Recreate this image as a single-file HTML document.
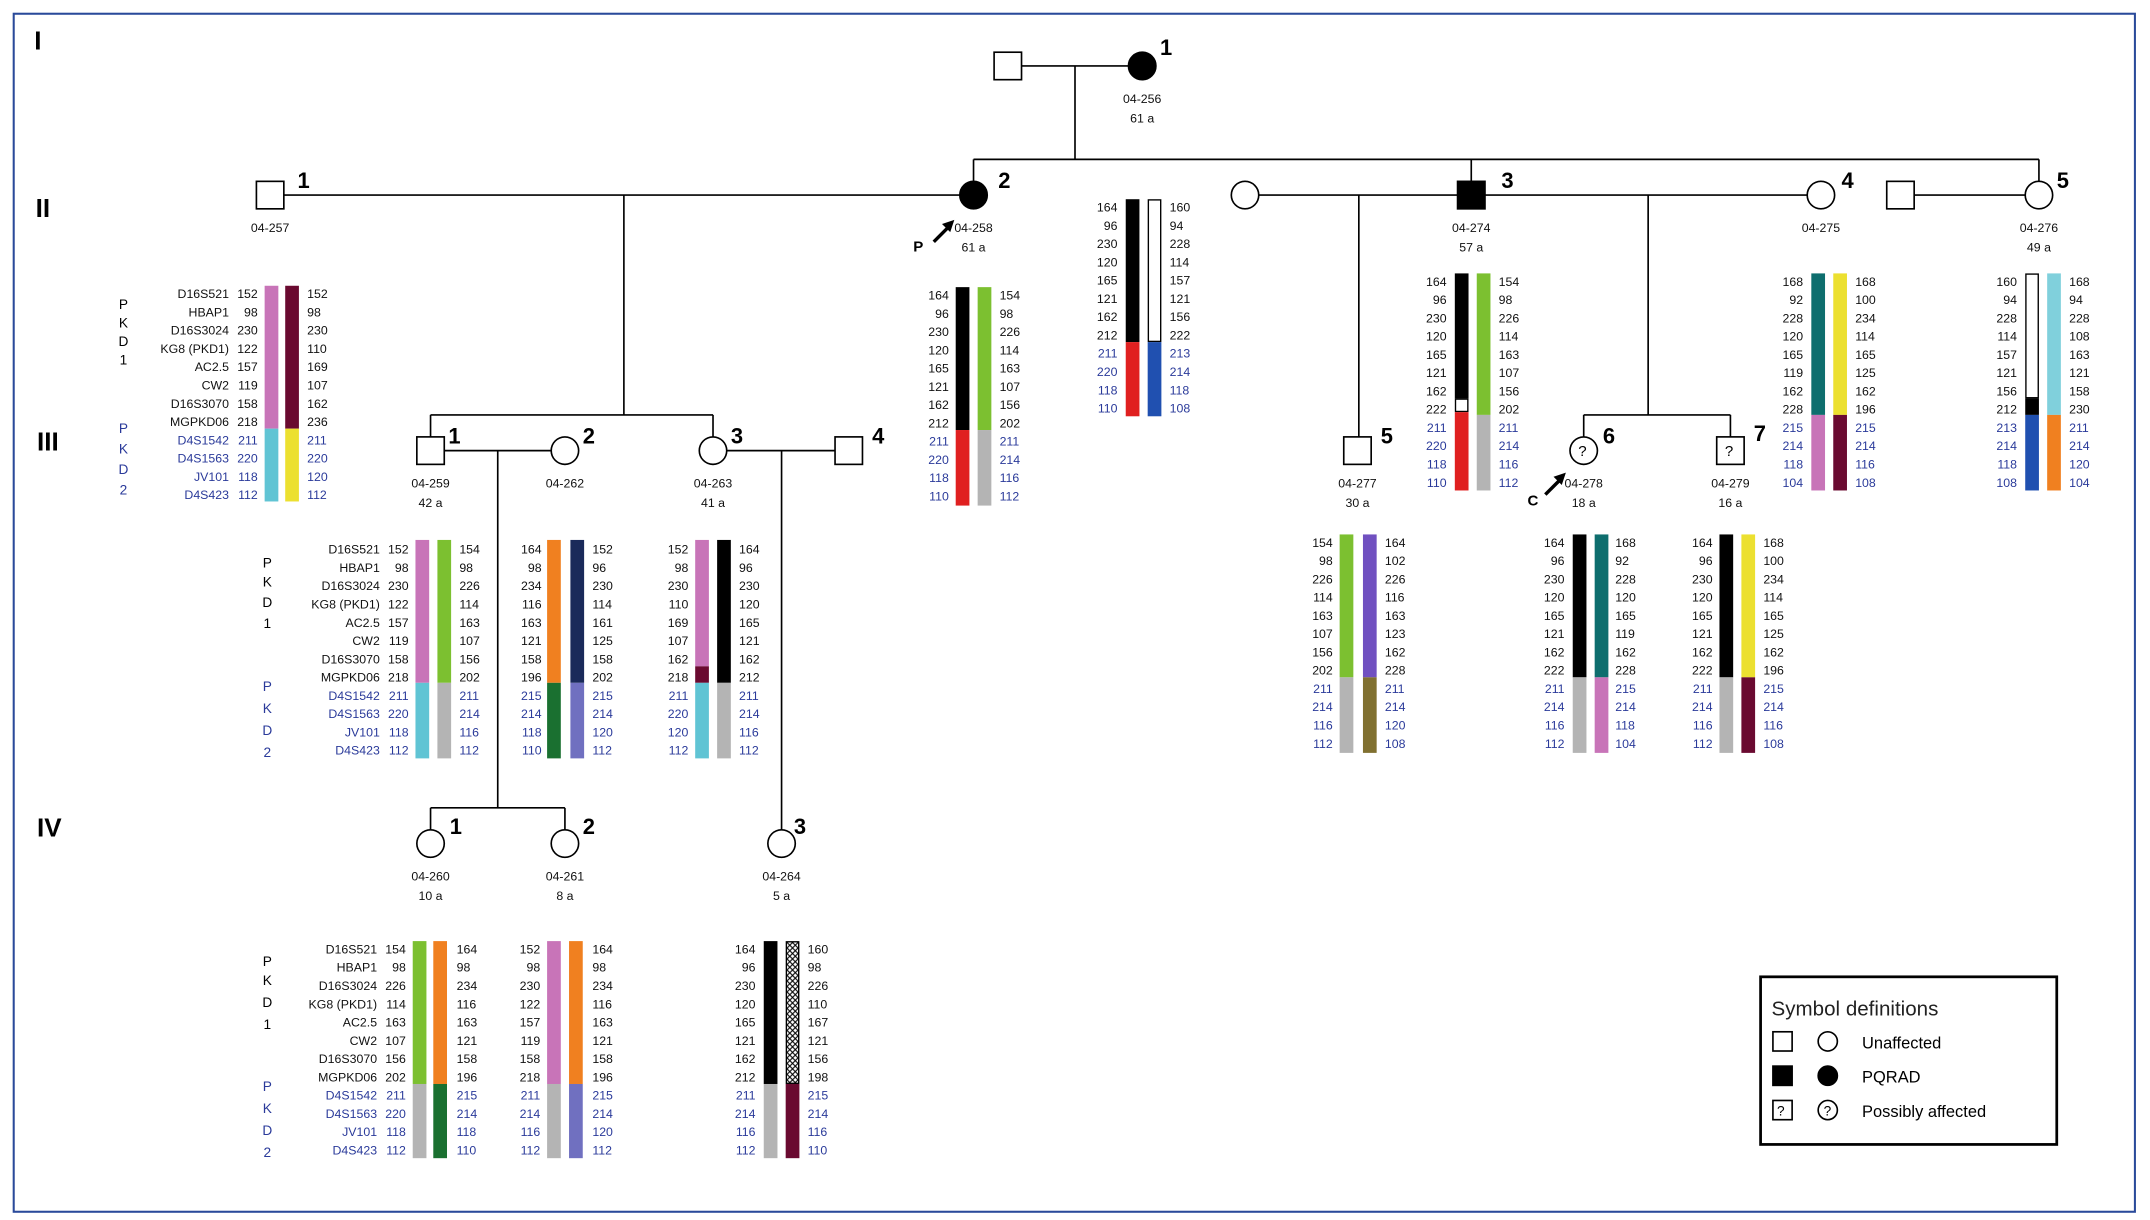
<!DOCTYPE html>
<html><head><meta charset="utf-8"><style>
html,body{margin:0;padding:0;background:#fff;}
svg{display:block}
text{font-family:"Liberation Sans",sans-serif;}
.v{font-size:9px;fill:#111}
.e{text-anchor:end}
.b{fill:#2a3a9a}
.lab{font-size:9px;text-anchor:middle;fill:#111}
.num{font-size:16px;font-weight:bold}
.gen{font-size:19px;font-weight:bold}
.pk{font-size:10px;text-anchor:middle}
.s{fill:#fff;stroke:#000;stroke-width:1.2}
.f{fill:#000;stroke:#000;stroke-width:1.2}
.ln{stroke:#000;stroke-width:1.2;fill:none}
</style></head><body>
<svg width="2150" height="1220" viewBox="0 0 1568 888" preserveAspectRatio="none" xmlns="http://www.w3.org/2000/svg">
<defs><pattern id="x" width="4" height="4" patternUnits="userSpaceOnUse"><rect width="4" height="4" fill="#fff"/><path d="M0 0L4 4M4 0L0 4" stroke="#000" stroke-width="0.8"/></pattern></defs>
<rect x="10" y="10" width="1547" height="872" fill="none" stroke="#2a4a9a" stroke-width="1.5"/>
<text x="25" y="36" class="gen">I</text>
<text x="26" y="158" class="gen">II</text>
<text x="27" y="328" class="gen">III</text>
<text x="27" y="609" class="gen">IV</text>

<!-- lines -->
<path class="ln" d="M745 48H823 M784 48V116 M710 116H1487 M710 116V132 M1073 116V132 M1487 116V132 M207 142H700 M455 142V302 M314 302H520 M314 302V318 M520 302V318 M918 142H1063 M991 142V318 M1083 142H1318 M1202 142V302 M1155 302H1262 M1155 302V318 M1262 302V318 M1396 142H1477 M324 328H402 M363 328V588 M314 588H412 M314 588V604 M412 588V604 M530 328H609 M570 328V604"/>

<!-- Gen I -->
<rect class="s" x="725" y="38" width="20" height="20"/>
<circle class="f" cx="833" cy="48" r="10"/>
<text x="846" y="40" class="num">1</text>
<text x="833" y="75" class="lab">04-256</text><text x="833" y="89" class="lab">61 a</text>

<!-- Gen II -->
<rect class="s" x="187" y="132" width="20" height="20"/><text x="217" y="137" class="num">1</text>
<text x="197" y="169" class="lab">04-257</text>
<circle class="f" cx="710" cy="142" r="10"/><text x="728" y="137" class="num">2</text>
<text x="710" y="169" class="lab">04-258</text><text x="710" y="183" class="lab">61 a</text>
<path d="M681 176L693 164" stroke="#000" stroke-width="2.5"/><path d="M696 160L687 163L693 169Z" fill="#000"/>
<text x="666" y="183" font-size="11" font-weight="bold">P</text>
<circle class="s" cx="908" cy="142" r="10"/>
<rect class="f" x="1063" y="132" width="20" height="20"/><text x="1095" y="137" class="num">3</text>
<text x="1073" y="169" class="lab">04-274</text><text x="1073" y="183" class="lab">57 a</text>
<circle class="s" cx="1328" cy="142" r="10"/><text x="1343" y="137" class="num">4</text>
<text x="1328" y="169" class="lab">04-275</text>
<rect class="s" x="1376" y="132" width="20" height="20"/>
<circle class="s" cx="1487" cy="142" r="10"/><text x="1500" y="137" class="num">5</text>
<text x="1487" y="169" class="lab">04-276</text><text x="1487" y="183" class="lab">49 a</text>

<!-- Gen III -->
<rect class="s" x="304" y="318" width="20" height="20"/><text x="327" y="323" class="num">1</text>
<text x="314" y="355" class="lab">04-259</text><text x="314" y="369" class="lab">42 a</text>
<circle class="s" cx="412" cy="328" r="10"/><text x="425" y="323" class="num">2</text>
<text x="412" y="355" class="lab">04-262</text>
<circle class="s" cx="520" cy="328" r="10"/><text x="533" y="323" class="num">3</text>
<text x="520" y="355" class="lab">04-263</text><text x="520" y="369" class="lab">41 a</text>
<rect class="s" x="609" y="318" width="20" height="20"/><text x="636" y="323" class="num">4</text>
<rect class="s" x="980" y="318" width="20" height="20"/><text x="1007" y="323" class="num">5</text>
<text x="990" y="355" class="lab">04-277</text><text x="990" y="369" class="lab">30 a</text>
<circle class="s" cx="1155" cy="328" r="10"/><text x="1151" y="332" font-size="11">?</text><text x="1169" y="323" class="num">6</text>
<text x="1155" y="355" class="lab">04-278</text><text x="1155" y="369" class="lab">18 a</text>
<path d="M1127 360L1139 348" stroke="#000" stroke-width="2.5"/><path d="M1142 344L1133 347L1139 353Z" fill="#000"/>
<text x="1114" y="368" font-size="11" font-weight="bold">C</text>
<rect class="s" x="1252" y="318" width="20" height="20"/><text x="1258" y="332" font-size="11">?</text><text x="1279" y="321" class="num">7</text>
<text x="1262" y="355" class="lab">04-279</text><text x="1262" y="369" class="lab">16 a</text>

<!-- Gen IV -->
<circle class="s" cx="314" cy="614" r="10"/><text x="328" y="607" class="num">1</text>
<text x="314" y="641" class="lab">04-260</text><text x="314" y="655" class="lab">10 a</text>
<circle class="s" cx="412" cy="614" r="10"/><text x="425" y="607" class="num">2</text>
<text x="412" y="641" class="lab">04-261</text><text x="412" y="655" class="lab">8 a</text>
<circle class="s" cx="570" cy="614" r="10"/><text x="579" y="607" class="num">3</text>
<text x="570" y="641" class="lab">04-264</text><text x="570" y="655" class="lab">5 a</text>

<!-- PKD labels -->
<text class="pk" x="90" y="225">P<tspan x="90" dy="13.5">K</tspan><tspan x="90" dy="13.5">D</tspan><tspan x="90" dy="13.5">1</tspan></text>
<text class="pk b" x="90" y="315">P<tspan x="90" dy="15">K</tspan><tspan x="90" dy="15">D</tspan><tspan x="90" dy="15">2</tspan></text>
<text class="pk" x="195" y="413">P<tspan x="195" dy="14">K</tspan><tspan x="195" dy="15">D</tspan><tspan x="195" dy="15">1</tspan></text>
<text class="pk b" x="195" y="503">P<tspan x="195" dy="16">K</tspan><tspan x="195" dy="16">D</tspan><tspan x="195" dy="16">2</tspan></text>
<text class="pk" x="195" y="703">P<tspan x="195" dy="14">K</tspan><tspan x="195" dy="16">D</tspan><tspan x="195" dy="16">1</tspan></text>
<text class="pk b" x="195" y="794">P<tspan x="195" dy="16">K</tspan><tspan x="195" dy="16">D</tspan><tspan x="195" dy="16">2</tspan></text>

<!-- marker names -->
<text class="v e" x="167" y="217">D16S521<tspan x="167" dy="13.3">HBAP1</tspan><tspan x="167" dy="13.3">D16S3024</tspan><tspan x="167" dy="13.3">KG8 (PKD1)</tspan><tspan x="167" dy="13.3">AC2.5</tspan><tspan x="167" dy="13.3">CW2</tspan><tspan x="167" dy="13.3">D16S3070</tspan><tspan x="167" dy="13.3">MGPKD06</tspan><tspan x="167" dy="13.3" class="b">D4S1542</tspan><tspan x="167" dy="13.3" class="b">D4S1563</tspan><tspan x="167" dy="13.3" class="b">JV101</tspan><tspan x="167" dy="13.3" class="b">D4S423</tspan></text>
<text class="v e" x="277" y="403">D16S521<tspan x="277" dy="13.3">HBAP1</tspan><tspan x="277" dy="13.3">D16S3024</tspan><tspan x="277" dy="13.3">KG8 (PKD1)</tspan><tspan x="277" dy="13.3">AC2.5</tspan><tspan x="277" dy="13.3">CW2</tspan><tspan x="277" dy="13.3">D16S3070</tspan><tspan x="277" dy="13.3">MGPKD06</tspan><tspan x="277" dy="13.3" class="b">D4S1542</tspan><tspan x="277" dy="13.3" class="b">D4S1563</tspan><tspan x="277" dy="13.3" class="b">JV101</tspan><tspan x="277" dy="13.3" class="b">D4S423</tspan></text>
<text class="v e" x="275" y="694">D16S521<tspan x="275" dy="13.3">HBAP1</tspan><tspan x="275" dy="13.3">D16S3024</tspan><tspan x="275" dy="13.3">KG8 (PKD1)</tspan><tspan x="275" dy="13.3">AC2.5</tspan><tspan x="275" dy="13.3">CW2</tspan><tspan x="275" dy="13.3">D16S3070</tspan><tspan x="275" dy="13.3">MGPKD06</tspan><tspan x="275" dy="13.3" class="b">D4S1542</tspan><tspan x="275" dy="13.3" class="b">D4S1563</tspan><tspan x="275" dy="13.3" class="b">JV101</tspan><tspan x="275" dy="13.3" class="b">D4S423</tspan></text>

<!-- A II-1 -->
<rect x="193" y="208" width="10" height="104" fill="#c874b8"/><rect x="193" y="312" width="10" height="53" fill="#60c4d4"/>
<rect x="208" y="208" width="10" height="104" fill="#6a0a30"/><rect x="208" y="312" width="10" height="53" fill="#ece030"/>
<text class="v e" x="188" y="217">152<tspan x="188" dy="13.3">98</tspan><tspan x="188" dy="13.3">230</tspan><tspan x="188" dy="13.3">122</tspan><tspan x="188" dy="13.3">157</tspan><tspan x="188" dy="13.3">119</tspan><tspan x="188" dy="13.3">158</tspan><tspan x="188" dy="13.3">218</tspan><tspan x="188" dy="13.3" class="b">211</tspan><tspan x="188" dy="13.3" class="b">220</tspan><tspan x="188" dy="13.3" class="b">118</tspan><tspan x="188" dy="13.3" class="b">112</tspan></text>
<text class="v" x="224" y="217">152<tspan x="224" dy="13.3">98</tspan><tspan x="224" dy="13.3">230</tspan><tspan x="224" dy="13.3">110</tspan><tspan x="224" dy="13.3">169</tspan><tspan x="224" dy="13.3">107</tspan><tspan x="224" dy="13.3">162</tspan><tspan x="224" dy="13.3">236</tspan><tspan x="224" dy="13.3" class="b">211</tspan><tspan x="224" dy="13.3" class="b">220</tspan><tspan x="224" dy="13.3" class="b">120</tspan><tspan x="224" dy="13.3" class="b">112</tspan></text>

<!-- B II-2 -->
<rect x="697" y="209" width="10" height="104" fill="#000"/><rect x="697" y="313" width="10" height="55" fill="#e02020"/>
<rect x="713" y="209" width="10" height="104" fill="#7cc030"/><rect x="713" y="313" width="10" height="55" fill="#b4b4b4"/>
<text class="v e" x="692" y="218">164<tspan x="692" dy="13.3">96</tspan><tspan x="692" dy="13.3">230</tspan><tspan x="692" dy="13.3">120</tspan><tspan x="692" dy="13.3">165</tspan><tspan x="692" dy="13.3">121</tspan><tspan x="692" dy="13.3">162</tspan><tspan x="692" dy="13.3">212</tspan><tspan x="692" dy="13.3" class="b">211</tspan><tspan x="692" dy="13.3" class="b">220</tspan><tspan x="692" dy="13.3" class="b">118</tspan><tspan x="692" dy="13.3" class="b">110</tspan></text>
<text class="v" x="729" y="218">154<tspan x="729" dy="13.3">98</tspan><tspan x="729" dy="13.3">226</tspan><tspan x="729" dy="13.3">114</tspan><tspan x="729" dy="13.3">163</tspan><tspan x="729" dy="13.3">107</tspan><tspan x="729" dy="13.3">156</tspan><tspan x="729" dy="13.3">202</tspan><tspan x="729" dy="13.3" class="b">211</tspan><tspan x="729" dy="13.3" class="b">214</tspan><tspan x="729" dy="13.3" class="b">116</tspan><tspan x="729" dy="13.3" class="b">112</tspan></text>

<!-- C mid -->
<rect x="821" y="145" width="10" height="104" fill="#000"/><rect x="821" y="249" width="10" height="54" fill="#e02020"/>
<rect x="837.5" y="145.5" width="9" height="103" fill="#fff" stroke="#000"/><rect x="837" y="249" width="10" height="54" fill="#2050b0"/>
<text class="v e" x="815" y="154">164<tspan x="815" dy="13.3">96</tspan><tspan x="815" dy="13.3">230</tspan><tspan x="815" dy="13.3">120</tspan><tspan x="815" dy="13.3">165</tspan><tspan x="815" dy="13.3">121</tspan><tspan x="815" dy="13.3">162</tspan><tspan x="815" dy="13.3">212</tspan><tspan x="815" dy="13.3" class="b">211</tspan><tspan x="815" dy="13.3" class="b">220</tspan><tspan x="815" dy="13.3" class="b">118</tspan><tspan x="815" dy="13.3" class="b">110</tspan></text>
<text class="v" x="853" y="154">160<tspan x="853" dy="13.3">94</tspan><tspan x="853" dy="13.3">228</tspan><tspan x="853" dy="13.3">114</tspan><tspan x="853" dy="13.3">157</tspan><tspan x="853" dy="13.3">121</tspan><tspan x="853" dy="13.3">156</tspan><tspan x="853" dy="13.3">222</tspan><tspan x="853" dy="13.3" class="b">213</tspan><tspan x="853" dy="13.3" class="b">214</tspan><tspan x="853" dy="13.3" class="b">118</tspan><tspan x="853" dy="13.3" class="b">108</tspan></text>

<!-- D II-3 -->
<rect x="1061" y="199" width="10" height="91" fill="#000"/><rect x="1061.5" y="290.5" width="9" height="9" fill="#fff" stroke="#000"/><rect x="1061" y="300" width="10" height="57" fill="#e02020"/>
<rect x="1077" y="199" width="10" height="103" fill="#7cc030"/><rect x="1077" y="302" width="10" height="55" fill="#b4b4b4"/>
<text class="v e" x="1055" y="208">164<tspan x="1055" dy="13.3">96</tspan><tspan x="1055" dy="13.3">230</tspan><tspan x="1055" dy="13.3">120</tspan><tspan x="1055" dy="13.3">165</tspan><tspan x="1055" dy="13.3">121</tspan><tspan x="1055" dy="13.3">162</tspan><tspan x="1055" dy="13.3">222</tspan><tspan x="1055" dy="13.3" class="b">211</tspan><tspan x="1055" dy="13.3" class="b">220</tspan><tspan x="1055" dy="13.3" class="b">118</tspan><tspan x="1055" dy="13.3" class="b">110</tspan></text>
<text class="v" x="1093" y="208">154<tspan x="1093" dy="13.3">98</tspan><tspan x="1093" dy="13.3">226</tspan><tspan x="1093" dy="13.3">114</tspan><tspan x="1093" dy="13.3">163</tspan><tspan x="1093" dy="13.3">107</tspan><tspan x="1093" dy="13.3">156</tspan><tspan x="1093" dy="13.3">202</tspan><tspan x="1093" dy="13.3" class="b">211</tspan><tspan x="1093" dy="13.3" class="b">214</tspan><tspan x="1093" dy="13.3" class="b">116</tspan><tspan x="1093" dy="13.3" class="b">112</tspan></text>

<!-- E II-4 -->
<rect x="1321" y="199" width="10" height="103" fill="#0e6e6e"/><rect x="1321" y="302" width="10" height="55" fill="#c874b8"/>
<rect x="1337" y="199" width="10" height="103" fill="#ece030"/><rect x="1337" y="302" width="10" height="55" fill="#6a0a30"/>
<text class="v e" x="1315" y="208">168<tspan x="1315" dy="13.3">92</tspan><tspan x="1315" dy="13.3">228</tspan><tspan x="1315" dy="13.3">120</tspan><tspan x="1315" dy="13.3">165</tspan><tspan x="1315" dy="13.3">119</tspan><tspan x="1315" dy="13.3">162</tspan><tspan x="1315" dy="13.3">228</tspan><tspan x="1315" dy="13.3" class="b">215</tspan><tspan x="1315" dy="13.3" class="b">214</tspan><tspan x="1315" dy="13.3" class="b">118</tspan><tspan x="1315" dy="13.3" class="b">104</tspan></text>
<text class="v" x="1353" y="208">168<tspan x="1353" dy="13.3">100</tspan><tspan x="1353" dy="13.3">234</tspan><tspan x="1353" dy="13.3">114</tspan><tspan x="1353" dy="13.3">165</tspan><tspan x="1353" dy="13.3">125</tspan><tspan x="1353" dy="13.3">162</tspan><tspan x="1353" dy="13.3">196</tspan><tspan x="1353" dy="13.3" class="b">215</tspan><tspan x="1353" dy="13.3" class="b">214</tspan><tspan x="1353" dy="13.3" class="b">116</tspan><tspan x="1353" dy="13.3" class="b">108</tspan></text>

<!-- F II-5 -->
<rect x="1477.5" y="199.5" width="9" height="90" fill="#fff" stroke="#000"/><rect x="1477" y="290" width="10" height="12" fill="#000"/><rect x="1477" y="302" width="10" height="55" fill="#2050b0"/>
<rect x="1493" y="199" width="10" height="103" fill="#80d0dc"/><rect x="1493" y="302" width="10" height="55" fill="#f08020"/>
<text class="v e" x="1471" y="208">160<tspan x="1471" dy="13.3">94</tspan><tspan x="1471" dy="13.3">228</tspan><tspan x="1471" dy="13.3">114</tspan><tspan x="1471" dy="13.3">157</tspan><tspan x="1471" dy="13.3">121</tspan><tspan x="1471" dy="13.3">156</tspan><tspan x="1471" dy="13.3">212</tspan><tspan x="1471" dy="13.3" class="b">213</tspan><tspan x="1471" dy="13.3" class="b">214</tspan><tspan x="1471" dy="13.3" class="b">118</tspan><tspan x="1471" dy="13.3" class="b">108</tspan></text>
<text class="v" x="1509" y="208">168<tspan x="1509" dy="13.3">94</tspan><tspan x="1509" dy="13.3">228</tspan><tspan x="1509" dy="13.3">108</tspan><tspan x="1509" dy="13.3">163</tspan><tspan x="1509" dy="13.3">121</tspan><tspan x="1509" dy="13.3">158</tspan><tspan x="1509" dy="13.3">230</tspan><tspan x="1509" dy="13.3" class="b">211</tspan><tspan x="1509" dy="13.3" class="b">214</tspan><tspan x="1509" dy="13.3" class="b">120</tspan><tspan x="1509" dy="13.3" class="b">104</tspan></text>

<!-- G III-1 -->
<rect x="303" y="393" width="10" height="104" fill="#c874b8"/><rect x="303" y="497" width="10" height="55" fill="#60c4d4"/>
<rect x="319" y="393" width="10" height="104" fill="#7cc030"/><rect x="319" y="497" width="10" height="55" fill="#b4b4b4"/>
<text class="v e" x="298" y="403">152<tspan x="298" dy="13.3">98</tspan><tspan x="298" dy="13.3">230</tspan><tspan x="298" dy="13.3">122</tspan><tspan x="298" dy="13.3">157</tspan><tspan x="298" dy="13.3">119</tspan><tspan x="298" dy="13.3">158</tspan><tspan x="298" dy="13.3">218</tspan><tspan x="298" dy="13.3" class="b">211</tspan><tspan x="298" dy="13.3" class="b">220</tspan><tspan x="298" dy="13.3" class="b">118</tspan><tspan x="298" dy="13.3" class="b">112</tspan></text>
<text class="v" x="335" y="403">154<tspan x="335" dy="13.3">98</tspan><tspan x="335" dy="13.3">226</tspan><tspan x="335" dy="13.3">114</tspan><tspan x="335" dy="13.3">163</tspan><tspan x="335" dy="13.3">107</tspan><tspan x="335" dy="13.3">156</tspan><tspan x="335" dy="13.3">202</tspan><tspan x="335" dy="13.3" class="b">211</tspan><tspan x="335" dy="13.3" class="b">214</tspan><tspan x="335" dy="13.3" class="b">116</tspan><tspan x="335" dy="13.3" class="b">112</tspan></text>

<!-- H III-2 -->
<rect x="399" y="393" width="10" height="104" fill="#f08020"/><rect x="399" y="497" width="10" height="55" fill="#1a7030"/>
<rect x="416" y="393" width="10" height="104" fill="#1a2a5a"/><rect x="416" y="497" width="10" height="55" fill="#7070c0"/>
<text class="v e" x="395" y="403">164<tspan x="395" dy="13.3">98</tspan><tspan x="395" dy="13.3">234</tspan><tspan x="395" dy="13.3">116</tspan><tspan x="395" dy="13.3">163</tspan><tspan x="395" dy="13.3">121</tspan><tspan x="395" dy="13.3">158</tspan><tspan x="395" dy="13.3">196</tspan><tspan x="395" dy="13.3" class="b">215</tspan><tspan x="395" dy="13.3" class="b">214</tspan><tspan x="395" dy="13.3" class="b">118</tspan><tspan x="395" dy="13.3" class="b">110</tspan></text>
<text class="v" x="432" y="403">152<tspan x="432" dy="13.3">96</tspan><tspan x="432" dy="13.3">230</tspan><tspan x="432" dy="13.3">114</tspan><tspan x="432" dy="13.3">161</tspan><tspan x="432" dy="13.3">125</tspan><tspan x="432" dy="13.3">158</tspan><tspan x="432" dy="13.3">202</tspan><tspan x="432" dy="13.3" class="b">215</tspan><tspan x="432" dy="13.3" class="b">214</tspan><tspan x="432" dy="13.3" class="b">120</tspan><tspan x="432" dy="13.3" class="b">112</tspan></text>

<!-- I III-3 -->
<rect x="507" y="393" width="10" height="92" fill="#c874b8"/><rect x="507" y="485" width="10" height="12" fill="#6a0a30"/><rect x="507" y="497" width="10" height="55" fill="#60c4d4"/>
<rect x="523" y="393" width="10" height="104" fill="#000"/><rect x="523" y="497" width="10" height="55" fill="#b4b4b4"/>
<text class="v e" x="502" y="403">152<tspan x="502" dy="13.3">98</tspan><tspan x="502" dy="13.3">230</tspan><tspan x="502" dy="13.3">110</tspan><tspan x="502" dy="13.3">169</tspan><tspan x="502" dy="13.3">107</tspan><tspan x="502" dy="13.3">162</tspan><tspan x="502" dy="13.3">218</tspan><tspan x="502" dy="13.3" class="b">211</tspan><tspan x="502" dy="13.3" class="b">220</tspan><tspan x="502" dy="13.3" class="b">120</tspan><tspan x="502" dy="13.3" class="b">112</tspan></text>
<text class="v" x="539" y="403">164<tspan x="539" dy="13.3">96</tspan><tspan x="539" dy="13.3">230</tspan><tspan x="539" dy="13.3">120</tspan><tspan x="539" dy="13.3">165</tspan><tspan x="539" dy="13.3">121</tspan><tspan x="539" dy="13.3">162</tspan><tspan x="539" dy="13.3">212</tspan><tspan x="539" dy="13.3" class="b">211</tspan><tspan x="539" dy="13.3" class="b">214</tspan><tspan x="539" dy="13.3" class="b">116</tspan><tspan x="539" dy="13.3" class="b">112</tspan></text>

<!-- J III-5 -->
<rect x="977" y="389" width="10" height="104" fill="#7cc030"/><rect x="977" y="493" width="10" height="55" fill="#b4b4b4"/>
<rect x="994" y="389" width="10" height="104" fill="#7050c0"/><rect x="994" y="493" width="10" height="55" fill="#807030"/>
<text class="v e" x="972" y="398">154<tspan x="972" dy="13.3">98</tspan><tspan x="972" dy="13.3">226</tspan><tspan x="972" dy="13.3">114</tspan><tspan x="972" dy="13.3">163</tspan><tspan x="972" dy="13.3">107</tspan><tspan x="972" dy="13.3">156</tspan><tspan x="972" dy="13.3">202</tspan><tspan x="972" dy="13.3" class="b">211</tspan><tspan x="972" dy="13.3" class="b">214</tspan><tspan x="972" dy="13.3" class="b">116</tspan><tspan x="972" dy="13.3" class="b">112</tspan></text>
<text class="v" x="1010" y="398">164<tspan x="1010" dy="13.3">102</tspan><tspan x="1010" dy="13.3">226</tspan><tspan x="1010" dy="13.3">116</tspan><tspan x="1010" dy="13.3">163</tspan><tspan x="1010" dy="13.3">123</tspan><tspan x="1010" dy="13.3">162</tspan><tspan x="1010" dy="13.3">228</tspan><tspan x="1010" dy="13.3" class="b">211</tspan><tspan x="1010" dy="13.3" class="b">214</tspan><tspan x="1010" dy="13.3" class="b">120</tspan><tspan x="1010" dy="13.3" class="b">108</tspan></text>

<!-- K III-6 -->
<rect x="1147" y="389" width="10" height="104" fill="#000"/><rect x="1147" y="493" width="10" height="55" fill="#b4b4b4"/>
<rect x="1163" y="389" width="10" height="104" fill="#0e6e6e"/><rect x="1163" y="493" width="10" height="55" fill="#c874b8"/>
<text class="v e" x="1141" y="398">164<tspan x="1141" dy="13.3">96</tspan><tspan x="1141" dy="13.3">230</tspan><tspan x="1141" dy="13.3">120</tspan><tspan x="1141" dy="13.3">165</tspan><tspan x="1141" dy="13.3">121</tspan><tspan x="1141" dy="13.3">162</tspan><tspan x="1141" dy="13.3">222</tspan><tspan x="1141" dy="13.3" class="b">211</tspan><tspan x="1141" dy="13.3" class="b">214</tspan><tspan x="1141" dy="13.3" class="b">116</tspan><tspan x="1141" dy="13.3" class="b">112</tspan></text>
<text class="v" x="1178" y="398">168<tspan x="1178" dy="13.3">92</tspan><tspan x="1178" dy="13.3">228</tspan><tspan x="1178" dy="13.3">120</tspan><tspan x="1178" dy="13.3">165</tspan><tspan x="1178" dy="13.3">119</tspan><tspan x="1178" dy="13.3">162</tspan><tspan x="1178" dy="13.3">228</tspan><tspan x="1178" dy="13.3" class="b">215</tspan><tspan x="1178" dy="13.3" class="b">214</tspan><tspan x="1178" dy="13.3" class="b">118</tspan><tspan x="1178" dy="13.3" class="b">104</tspan></text>

<!-- L III-7 -->
<rect x="1254" y="389" width="10" height="104" fill="#000"/><rect x="1254" y="493" width="10" height="55" fill="#b4b4b4"/>
<rect x="1270" y="389" width="10" height="104" fill="#ece030"/><rect x="1270" y="493" width="10" height="55" fill="#6a0a30"/>
<text class="v e" x="1249" y="398">164<tspan x="1249" dy="13.3">96</tspan><tspan x="1249" dy="13.3">230</tspan><tspan x="1249" dy="13.3">120</tspan><tspan x="1249" dy="13.3">165</tspan><tspan x="1249" dy="13.3">121</tspan><tspan x="1249" dy="13.3">162</tspan><tspan x="1249" dy="13.3">222</tspan><tspan x="1249" dy="13.3" class="b">211</tspan><tspan x="1249" dy="13.3" class="b">214</tspan><tspan x="1249" dy="13.3" class="b">116</tspan><tspan x="1249" dy="13.3" class="b">112</tspan></text>
<text class="v" x="1286" y="398">168<tspan x="1286" dy="13.3">100</tspan><tspan x="1286" dy="13.3">234</tspan><tspan x="1286" dy="13.3">114</tspan><tspan x="1286" dy="13.3">165</tspan><tspan x="1286" dy="13.3">125</tspan><tspan x="1286" dy="13.3">162</tspan><tspan x="1286" dy="13.3">196</tspan><tspan x="1286" dy="13.3" class="b">215</tspan><tspan x="1286" dy="13.3" class="b">214</tspan><tspan x="1286" dy="13.3" class="b">116</tspan><tspan x="1286" dy="13.3" class="b">108</tspan></text>

<!-- M IV-1 -->
<rect x="301" y="685" width="10" height="104" fill="#7cc030"/><rect x="301" y="789" width="10" height="54" fill="#b4b4b4"/>
<rect x="316" y="685" width="10" height="104" fill="#f08020"/><rect x="316" y="789" width="10" height="54" fill="#1a7030"/>
<text class="v e" x="296" y="694">154<tspan x="296" dy="13.3">98</tspan><tspan x="296" dy="13.3">226</tspan><tspan x="296" dy="13.3">114</tspan><tspan x="296" dy="13.3">163</tspan><tspan x="296" dy="13.3">107</tspan><tspan x="296" dy="13.3">156</tspan><tspan x="296" dy="13.3">202</tspan><tspan x="296" dy="13.3" class="b">211</tspan><tspan x="296" dy="13.3" class="b">220</tspan><tspan x="296" dy="13.3" class="b">118</tspan><tspan x="296" dy="13.3" class="b">112</tspan></text>
<text class="v" x="333" y="694">164<tspan x="333" dy="13.3">98</tspan><tspan x="333" dy="13.3">234</tspan><tspan x="333" dy="13.3">116</tspan><tspan x="333" dy="13.3">163</tspan><tspan x="333" dy="13.3">121</tspan><tspan x="333" dy="13.3">158</tspan><tspan x="333" dy="13.3">196</tspan><tspan x="333" dy="13.3" class="b">215</tspan><tspan x="333" dy="13.3" class="b">214</tspan><tspan x="333" dy="13.3" class="b">118</tspan><tspan x="333" dy="13.3" class="b">110</tspan></text>

<!-- N IV-2 -->
<rect x="399" y="685" width="10" height="104" fill="#c874b8"/><rect x="399" y="789" width="10" height="54" fill="#b4b4b4"/>
<rect x="415" y="685" width="10" height="104" fill="#f08020"/><rect x="415" y="789" width="10" height="54" fill="#7070c0"/>
<text class="v e" x="394" y="694">152<tspan x="394" dy="13.3">98</tspan><tspan x="394" dy="13.3">230</tspan><tspan x="394" dy="13.3">122</tspan><tspan x="394" dy="13.3">157</tspan><tspan x="394" dy="13.3">119</tspan><tspan x="394" dy="13.3">158</tspan><tspan x="394" dy="13.3">218</tspan><tspan x="394" dy="13.3" class="b">211</tspan><tspan x="394" dy="13.3" class="b">214</tspan><tspan x="394" dy="13.3" class="b">116</tspan><tspan x="394" dy="13.3" class="b">112</tspan></text>
<text class="v" x="432" y="694">164<tspan x="432" dy="13.3">98</tspan><tspan x="432" dy="13.3">234</tspan><tspan x="432" dy="13.3">116</tspan><tspan x="432" dy="13.3">163</tspan><tspan x="432" dy="13.3">121</tspan><tspan x="432" dy="13.3">158</tspan><tspan x="432" dy="13.3">196</tspan><tspan x="432" dy="13.3" class="b">215</tspan><tspan x="432" dy="13.3" class="b">214</tspan><tspan x="432" dy="13.3" class="b">120</tspan><tspan x="432" dy="13.3" class="b">112</tspan></text>

<!-- O IV-3 -->
<rect x="557" y="685" width="10" height="104" fill="#000"/><rect x="557" y="789" width="10" height="54" fill="#b4b4b4"/>
<rect x="573.5" y="685.5" width="9" height="103" fill="url(#x)" stroke="#000"/><rect x="573" y="789" width="10" height="54" fill="#6a0a30"/>
<text class="v e" x="551" y="694">164<tspan x="551" dy="13.3">96</tspan><tspan x="551" dy="13.3">230</tspan><tspan x="551" dy="13.3">120</tspan><tspan x="551" dy="13.3">165</tspan><tspan x="551" dy="13.3">121</tspan><tspan x="551" dy="13.3">162</tspan><tspan x="551" dy="13.3">212</tspan><tspan x="551" dy="13.3" class="b">211</tspan><tspan x="551" dy="13.3" class="b">214</tspan><tspan x="551" dy="13.3" class="b">116</tspan><tspan x="551" dy="13.3" class="b">112</tspan></text>
<text class="v" x="589" y="694">160<tspan x="589" dy="13.3">98</tspan><tspan x="589" dy="13.3">226</tspan><tspan x="589" dy="13.3">110</tspan><tspan x="589" dy="13.3">167</tspan><tspan x="589" dy="13.3">121</tspan><tspan x="589" dy="13.3">156</tspan><tspan x="589" dy="13.3">198</tspan><tspan x="589" dy="13.3" class="b">215</tspan><tspan x="589" dy="13.3" class="b">214</tspan><tspan x="589" dy="13.3" class="b">116</tspan><tspan x="589" dy="13.3" class="b">110</tspan></text>

<!-- Legend -->
<rect x="1284" y="711" width="216" height="122" fill="#fff" stroke="#000" stroke-width="2"/>
<text x="1292" y="739" font-size="15" fill="#222">Symbol definitions</text>
<rect class="s" x="1293" y="751" width="14" height="14"/><circle class="s" cx="1333" cy="758" r="7"/>
<text x="1358" y="763" font-size="12">Unaffected</text>
<rect class="f" x="1293" y="776" width="14" height="14"/><circle class="f" cx="1333" cy="783" r="7"/>
<text x="1358" y="788" font-size="12">PQRAD</text>
<rect class="s" x="1293" y="801" width="14" height="14"/><text x="1296" y="812" font-size="10">?</text>
<circle class="s" cx="1333" cy="808" r="7"/><text x="1330" y="812" font-size="10">?</text>
<text x="1358" y="813" font-size="12">Possibly affected</text>
</svg>
</body></html>
